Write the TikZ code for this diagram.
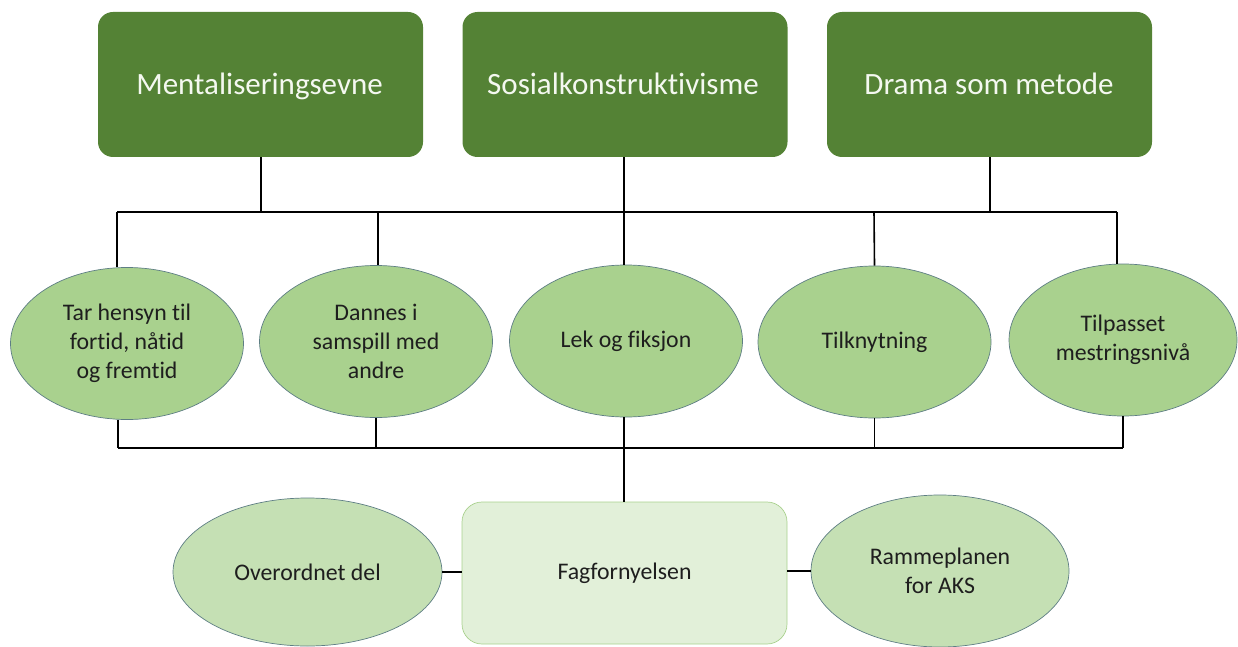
\documentclass[tikz,border=0pt]{standalone}
\usepackage{fontspec}
\setmainfont{Carlito}[Ligatures=NoCommon]
\usetikzlibrary{shapes.geometric}
\definecolor{darkgreen}{HTML}{548235}
\definecolor{midgreen}{HTML}{A9D18E}
\definecolor{lightgreen}{HTML}{C5E0B4}
\definecolor{palegreen}{HTML}{E2F0D9}
\definecolor{rimcol}{HTML}{5E7E84}
\definecolor{toptext}{HTML}{F4F8F0}
\definecolor{bodytext}{HTML}{1E1E1E}
\begin{document}
\begin{tikzpicture}[x=1pt,y=-1pt,
  theory/.style={draw=none, fill=darkgreen, rounded corners=15pt,
    minimum width=325pt, minimum height=145pt, inner sep=0pt,
    text=toptext, font=\fontsize{31}{36}\selectfont},
  theorytext/.style={text=toptext, font=\fontsize{31}{36}\selectfont, inner sep=0pt},
  concept/.style={ellipse, draw=rimcol, line width=0.7pt, fill=midgreen,
    minimum width=233pt, minimum height=152pt, inner sep=0pt,
    text=bodytext, align=center, font=\fontsize{23.8}{29}\selectfont},
  plan/.style={concept, fill=lightgreen},
  core/.style={draw=midgreen, line width=0.7pt, fill=palegreen, rounded corners=20pt,
    minimum width=325pt, minimum height=142pt, inner sep=0pt,
    text=bodytext, font=\fontsize{23.8}{29}\selectfont},
  wire/.style={draw=black, line width=1.6pt}]
\useasboundingbox (0,0) rectangle (1238,647);

% upper row: the three theoretical foundations (labels sit a little low)
\node[theory] (b1) at (260.5,84.5) {};
\node[theory] (b2) at (625,84.5) {};
\node[theory] (b3) at (989.5,84.5) {};
\node[theorytext, anchor=base] (t1) at (259.5,95) {Mentaliseringsevne};
\node[theorytext, anchor=base] (t2) at (623,95) {Sosialkonstruktivisme};
\node[theorytext, anchor=base] (t3) at (989,95) {Drama som metode};

% middle row: the five concepts
\node[concept] (e1) at (127,343.5) {Tar hensyn til\\fortid, nåtid\\og fremtid};
\node[concept] (e2) at (376,341.5) {Dannes i\\samspill med\\andre};
\node[concept] (e3) at (626,341) {Lek og fiksjon};
\node[concept] (e4) at (874.5,342) {Tilknytning};
\node[concept, minimum width=228pt] (e5) at (1123,340) {Tilpasset\\mestringsnivå};

% lower row: curriculum documents
\node[core] (fag) at (624.5,573) {Fagfornyelsen};
\node[plan, minimum width=269pt, minimum height=148pt] (ov) at (307.5,572) {Overordnet del};
\node[plan, minimum width=258pt, minimum height=152pt] (rp) at (940,571) {Rammeplanen\\for AKS};

% upper bus
\coordinate (busL) at (117,212);
\coordinate (busR) at (1117,212);
\draw[wire] (busL) -- (busR);
\draw[wire] (b1.south -| 261,0) -- (261,212);
\draw[wire] (b3.south -| 990,0) -- (990,212);
\draw[wire] (b2.south -| 624,0) -- (e3.north -| 624,0);
\draw[wire] (busL) -- (busL |- e1.north);
\draw[wire] (378,212) -- (e2.north -| 378,0);
\draw[wire] (874,212) -- (e4.north);
\draw[wire] (busR) -- (busR |- e5.north);

% lower bus
\coordinate (lowL) at (118,448);
\coordinate (lowR) at (1123,448);
\draw[wire] (lowL) -- (lowR);
\draw[wire] (e1.south -| 118,0) -- (lowL);
\draw[wire] (e2.south) -- (e2.south |- lowL);
\draw[wire] (e3.south -| 624,0) -- (fag.north -| 624,0);
\draw[wire] (e4.south) -- (e4.south |- lowL);
\draw[wire] (e5.south) -- (lowR);

% side links of the curriculum box
\draw[wire] (ov.east) -- (fag.west |- ov.east);
\draw[wire] (fag.east |- rp.west) -- (rp.west);
\end{tikzpicture}
\end{document}
